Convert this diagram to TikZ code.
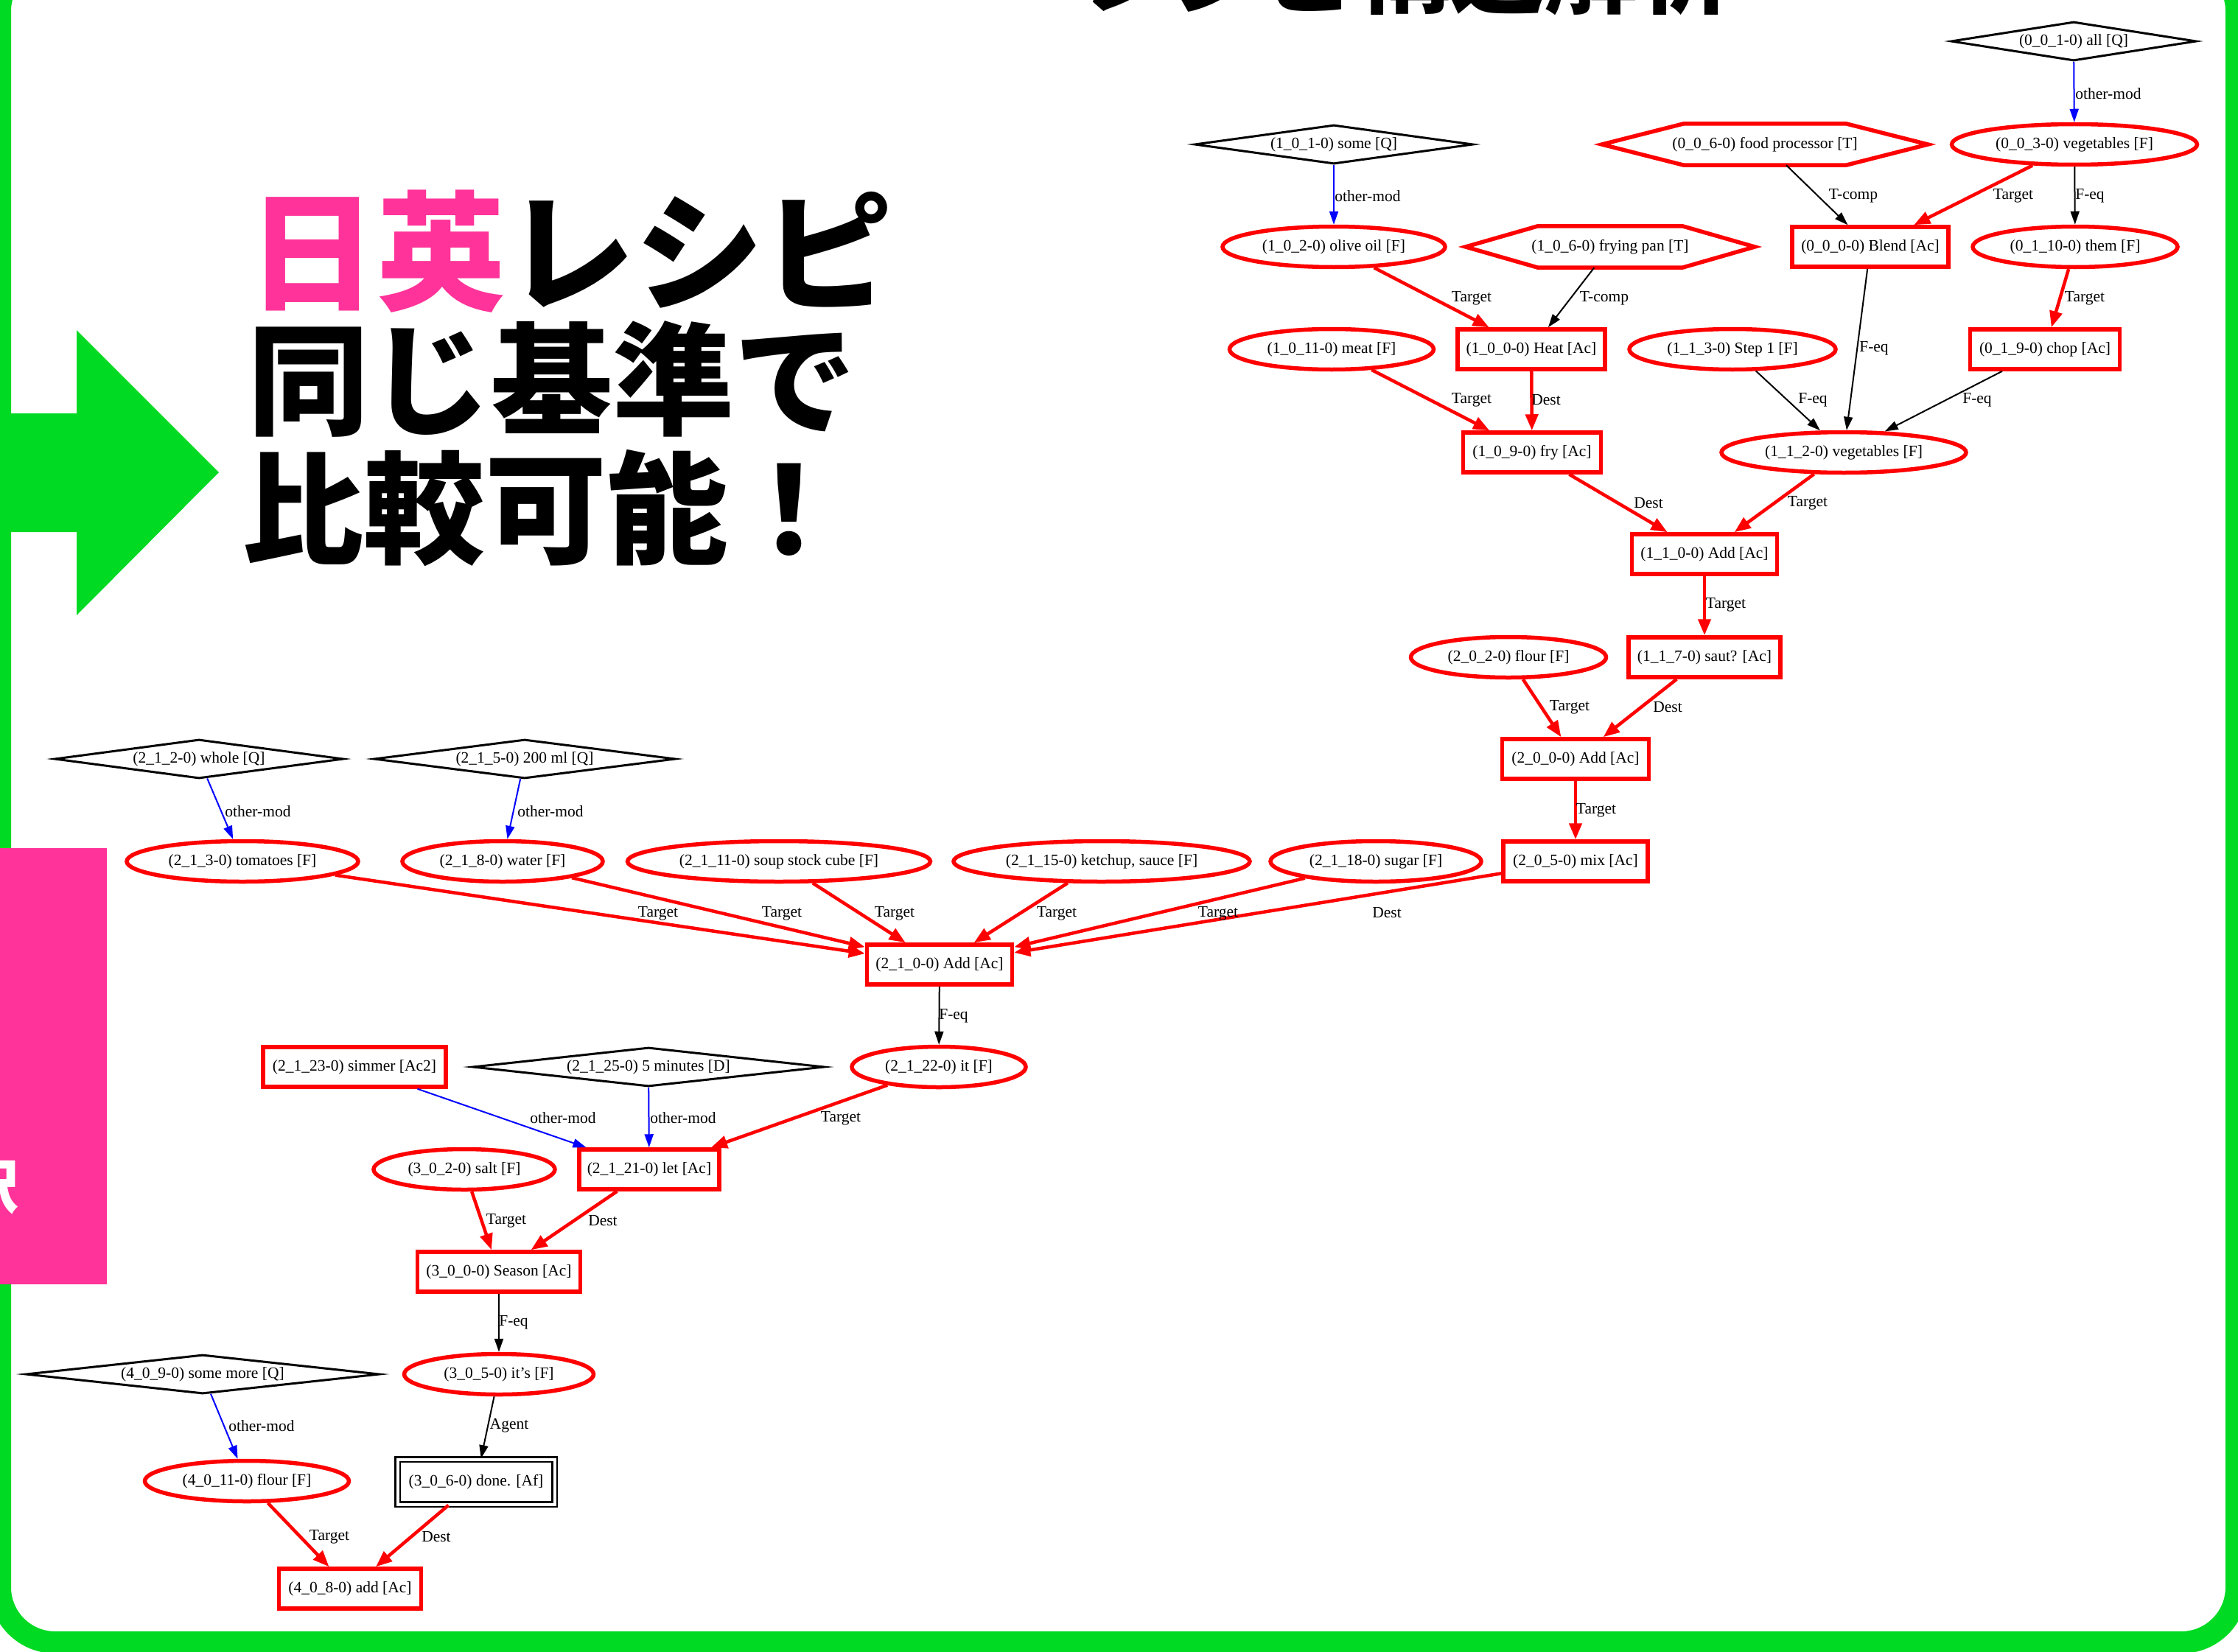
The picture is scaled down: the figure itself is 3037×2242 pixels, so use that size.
\documentclass[tikz,border=0pt]{standalone}
\usepackage{fontspec}
\setmainfont{Liberation Serif}
\newfontfamily\cjk{Noto Sans CJK JP}
\usetikzlibrary{shapes.geometric,arrows.meta}
\definecolor{gr}{HTML}{00DA22}
\definecolor{pk}{HTML}{FF3399}
\newcommand\hexa[2]{\draw[hexd] (#1.west) -- ([xshift=-#2]#1.north) -- ([xshift=#2]#1.north) -- (#1.east) -- ([xshift=#2]#1.south) -- ([xshift=-#2]#1.south) -- cycle;}
\begin{document}
\begin{tikzpicture}[x=1pt,y=-1pt,
 tx/.style={font=\fontsize{21.5}{24}\selectfont},
 box/.style={rectangle, draw=red, line width=5.5pt, minimum height=54pt, inner sep=0pt, tx},
 ell/.style={ellipse, draw=red, line width=5.5pt, minimum height=55pt, inner sep=0pt, tx},
 dia/.style={diamond, aspect=8, draw=black, line width=3pt, minimum height=53pt, inner sep=0pt, tx},
 hexn/.style={rectangle, minimum height=56pt, inner sep=0pt, tx},
 hexd/.style={draw=red, line width=5.5pt},
 dbox/.style={rectangle, draw=black, double, double distance=4pt, line width=2.5pt, minimum height=61pt, inner sep=0pt, tx},
 re/.style={draw=red, line width=4.5pt, -{Triangle[length=22pt,width=17pt]}},
 ke/.style={draw=black, line width=2pt, -{Triangle[length=18pt,width=12pt]}},
 be/.style={ke, draw=blue},
 lb/.style={tx, inner sep=0pt},
 big/.style={inner sep=0pt, anchor=base west},
]
\useasboundingbox (0,0) rectangle (3037,2242);
\fill[white] (0,0) rectangle (3037,2242);
% frame and decorations
\draw[gr, line width=30pt, rounded corners=75pt] (0,-60) rectangle (3035,2229);
\fill[gr] (-5,561) -- (104,561) -- (104,448) -- (297,641) -- (104,835) -- (104,722) -- (-5,722) -- cycle;
\fill[pk] (-5,1151) rectangle (145,1743);
\node[big, anchor=base east, text=white, font=\cjk\bfseries\fontsize{80}{80}\selectfont] (tr) at (26,1640) {訳};
\node[big, font=\cjk\bfseries\fontsize{127}{127}\selectfont] (title) at (1460,9) {レシピ構造解析};
\node[big, font=\cjk\bfseries\fontsize{175}{175}\selectfont] (h1) at (336,407) {{\color{pk}日英}レシピ};
\node[big, font=\cjk\bfseries\fontsize{165}{165}\selectfont] (h2) at (336,577) {同じ基準で};
\node[big, font=\cjk\bfseries\fontsize{165}{165}\selectfont] (h3) at (328,752) {比較可能！};
% nodes
\node[dia, minimum width=333] (q001) at (2814,56) {(0\_0\_1-0) all [Q]};
\node[dia, minimum width=378] (q101) at (1810,196) {(1\_0\_1-0) some [Q]};
\node[hexn, minimum width=442] (t006) at (2395,196) {(0\_0\_6-0) food processor [T]};
\node[ell, minimum width=333] (f003) at (2815,196) {(0\_0\_3-0) vegetables [F]};
\node[ell, minimum width=302] (f102) at (1810,335) {(1\_0\_2-0) olive oil [F]};
\node[hexn, minimum width=392] (t106) at (2185,335) {(1\_0\_6-0) frying pan [T]};
\node[box, minimum width=212] (a000) at (2538,335) {(0\_0\_0-0) Blend [Ac]};
\node[ell, minimum width=278] (f0110) at (2816,335) {(0\_1\_10-0) them [F]};
\node[ell, minimum width=277] (f1011) at (1807,474) {(1\_0\_11-0) meat [F]};
\node[box, minimum width=200] (a100) at (2078,474) {(1\_0\_0-0) Heat [Ac]};
\node[ell, minimum width=280] (f113) at (2351,474) {(1\_1\_3-0) Step 1 [F]};
\node[box, minimum width=203] (a019) at (2775,474) {(0\_1\_9-0) chop [Ac]};
\node[box, minimum width=187] (a109) at (2079,614) {(1\_0\_9-0) fry [Ac]};
\node[ell, minimum width=332] (f112) at (2502,614) {(1\_1\_2-0) vegetables [F]};
\node[box, minimum width=197] (a110) at (2313,752) {(1\_1\_0-0) Add [Ac]};
\node[ell, minimum width=265] (f202) at (2047,892) {(2\_0\_2-0) flour [F]};
\node[box, minimum width=206] (a117) at (2313,892) {(1\_1\_7-0) saut? [Ac]};
\node[box, minimum width=199] (a200) at (2138,1030) {(2\_0\_0-0) Add [Ac]};
\node[dia, minimum width=392] (q212) at (270,1030) {(2\_1\_2-0) whole [Q]};
\node[dia, minimum width=409] (q215) at (712,1030) {(2\_1\_5-0) 200 ml [Q]};
\node[ell, minimum width=314] (f213) at (329,1169) {(2\_1\_3-0) tomatoes [F]};
\node[ell, minimum width=272] (f218) at (682,1169) {(2\_1\_8-0) water [F]};
\node[ell, minimum width=411] (f2111) at (1057,1169) {(2\_1\_11-0) soup stock cube [F]};
\node[ell, minimum width=402] (f2115) at (1495,1169) {(2\_1\_15-0) ketchup, sauce [F]};
\node[ell, minimum width=286] (f2118) at (1867,1169) {(2\_1\_18-0) sugar [F]};
\node[box, minimum width=196] (a205) at (2138,1169) {(2\_0\_5-0) mix [Ac]};
\node[box, minimum width=197] (a210) at (1275,1309) {(2\_1\_0-0) Add [Ac]};
\node[box, minimum width=248] (a2123) at (481,1448) {(2\_1\_23-0) simmer [Ac2]};
\node[dia, minimum width=477] (d2125) at (880,1448) {(2\_1\_25-0) 5 minutes [D]};
\node[ell, minimum width=236] (f2122) at (1274,1448) {(2\_1\_22-0) it [F]};
\node[ell, minimum width=246] (f302) at (630,1587) {(3\_0\_2-0) salt [F]};
\node[box, minimum width=190] (a2121) at (881,1587) {(2\_1\_21-0) let [Ac]};
\node[box, minimum width=221] (a300) at (677,1726) {(3\_0\_0-0) Season [Ac]};
\node[dia, minimum width=480] (q409) at (275,1865) {(4\_0\_9-0) some more [Q]};
\node[ell, minimum width=257] (f305) at (677,1865) {(3\_0\_5-0) it’s [F]};
\node[ell, minimum width=277] (f4011) at (335,2010) {(4\_0\_11-0) flour [F]};
\node[dbox, minimum width=213] (af306) at (646,2011) {(3\_0\_6-0) done. [Af]};
\node[box, minimum width=193] (a408) at (475,2156) {(4\_0\_8-0) add [Ac]};
\hexa{t006}{110}
\hexa{t106}{98}
% edges
\draw[be] (q001) -- (f003);
\draw[be] (q101) -- (f102);
\draw[ke] (t006) -- (a000);
\draw[re] (f003) -- (a000);
\draw[ke] (f003) -- (f0110);
\draw[re] (f102) -- (a100);
\draw[ke] (t106) -- (a100);
\draw[ke] (a000) -- (f112);
\draw[re] (f0110) -- (a019);
\draw[re] (f1011) -- (a109);
\draw[re] (a100) -- (a109);
\draw[ke] (f113) -- (f112);
\draw[ke] (a019) -- (f112);
\draw[re] (a109) -- (a110);
\draw[re] (f112) -- (a110);
\draw[re] (a110) -- (a117);
\draw[re] (f202) -- (a200);
\draw[re] (a117) -- (a200);
\draw[re] (a200) -- (a205);
\draw[be] (q212) -- (f213);
\draw[be] (q215) -- (f218);
\draw[re] (f213) -- (a210);
\draw[re] (f218) -- (a210);
\draw[re] (f2111) -- (a210);
\draw[re] (f2115) -- (a210);
\draw[re] (f2118) -- (a210);
\draw[re] (a205) -- (a210);
\draw[ke] (a210) -- (f2122);
\draw[be] (a2123) -- (a2121);
\draw[be] (d2125) -- (a2121);
\draw[re] (f2122) -- (a2121);
\draw[re] (f302) -- (a300);
\draw[re] (a2121) -- (a300);
\draw[ke] (a300) -- (f305);
\draw[be] (q409) -- (f4011);
\draw[ke] (f305) -- (af306);
\draw[re] (f4011) -- (a408);
\draw[re] (af306) -- (a408);
% edge labels
\node[lb] (l1) at (2861,127) {other-mod};
\node[lb] (l2) at (1856,266) {other-mod};
\node[lb] (l3) at (2515,266) {T-comp};
\node[lb] (l4) at (2732,266) {Target};
\node[lb] (l5) at (2836,266) {F-eq};
\node[lb] (l6) at (1997,405) {Target};
\node[lb] (l7) at (2177,405) {T-comp};
\node[lb] (l8) at (2543,473) {F-eq};
\node[lb] (l9) at (2829,405) {Target};
\node[lb] (l10) at (1997,543) {Target};
\node[lb] (l11) at (2098,543) {Dest};
\node[lb] (l12) at (2460,543) {F-eq};
\node[lb] (l13) at (2683,543) {F-eq};
\node[lb] (l14) at (2237,683) {Dest};
\node[lb] (l15) at (2453,683) {Target};
\node[lb] (l16) at (2342,821) {Target};
\node[lb] (l17) at (2130,960) {Target};
\node[lb] (l18) at (2263,960) {Dest};
\node[lb] (l19) at (2166,1100) {Target};
\node[lb] (l20) at (350,1101) {other-mod};
\node[lb] (l21) at (747,1101) {other-mod};
\node[lb] (l22) at (893,1240) {Target};
\node[lb] (l23) at (1061,1240) {Target};
\node[lb] (l24) at (1214,1240) {Target};
\node[lb] (l25) at (1434,1240) {Target};
\node[lb] (l26) at (1653,1240) {Target};
\node[lb] (l27) at (1882,1239) {Dest};
\node[lb] (l28) at (1294,1379) {F-eq};
\node[lb] (l29) at (764,1517) {other-mod};
\node[lb] (l30) at (927,1517) {other-mod};
\node[lb] (l31) at (1141,1518) {Target};
\node[lb] (l32) at (687,1657) {Target};
\node[lb] (l33) at (818,1657) {Dest};
\node[lb] (l34) at (697,1795) {F-eq};
\node[lb] (l35) at (355,1935) {other-mod};
\node[lb] (l36) at (691,1935) {Agent};
\node[lb] (l37) at (447,2086) {Target};
\node[lb] (l38) at (592,2086) {Dest};
\end{tikzpicture}
\end{document}
